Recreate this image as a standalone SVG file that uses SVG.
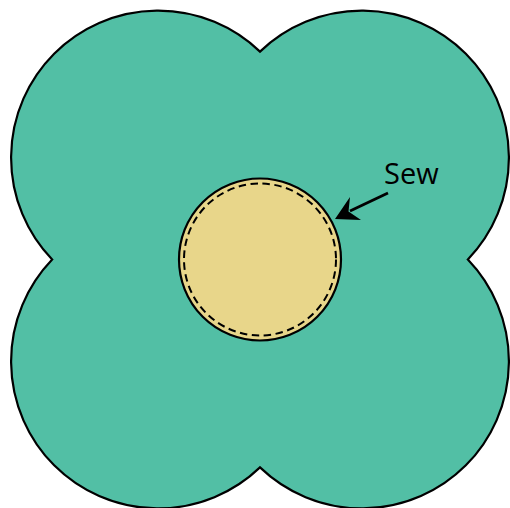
<svg xmlns="http://www.w3.org/2000/svg" width="510" height="508" viewBox="0 0 510 508">
<style>
.outline{stroke:#000;stroke-width:2.2;stroke-linejoin:miter}
.lbl{font-family:"Open Sans","Liberation Sans",sans-serif;font-size:29px;fill:#000}
</style>
<rect width="510" height="508" fill="#fff"/>
<g id="flower">
<path class="outline" fill="#52BFA5" d="M260 51.65 A147 147 0 0 1 467.85 259.5 A147 147 0 0 1 260 467.35 A147 147 0 0 1 52.15 259.5 A147 147 0 0 1 260 51.65 Z"/>
</g>
<g id="center">
<circle cx="260" cy="259.5" r="81" fill="#E8D68A" class="outline"/>
<circle cx="260" cy="259.5" r="76" fill="none" stroke="#000" stroke-width="2" stroke-dasharray="7.5 4.5"/>
</g>
<g id="label">
<text class="lbl" x="384" y="184">Sew</text>
</g>
<g id="connectors">
<line x1="388" y1="193" x2="350" y2="211" stroke="#000" stroke-width="2.8"/>
<polygon points="335,219 350,197 348.5,211.5 361,220" fill="#000"/>
</g>
</svg>
